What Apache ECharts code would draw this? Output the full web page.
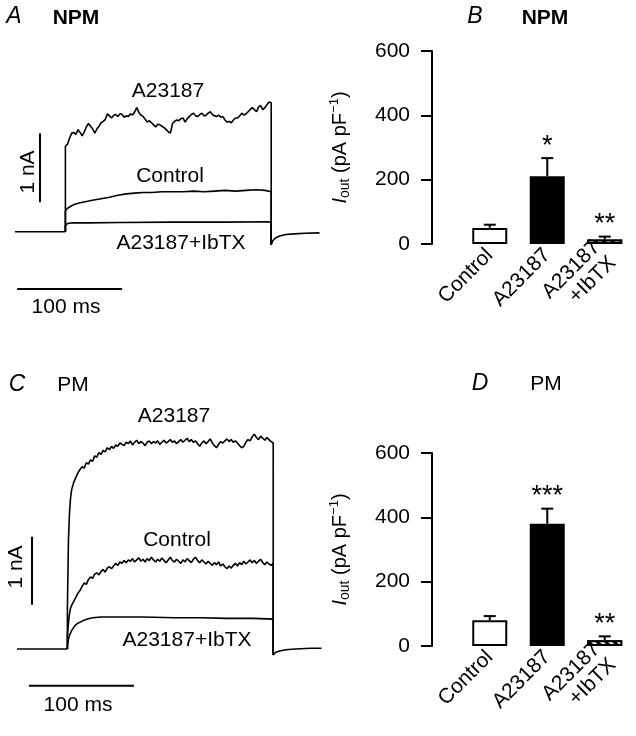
<!DOCTYPE html>
<html>
<head>
<meta charset="utf-8">
<script src="https://cdn.jsdelivr.net/npm/echarts@6/dist/echarts.min.js"></script>
<style>
  html, body { margin: 0; padding: 0; background: #fff; }
  #chart { width: 636px; height: 736px; }
</style>
</head>
<body>
<div id="chart"></div>
<script>
// ---- panel A (NPM) whole-cell traces: time in ms, current in nA ----
const stepOn = 48
const stepOff = 244
const preT = [0, 48]
const preI = [0, 0]

const tA = [48,50,52,54,56,58,60,62,64,66,68,70,72,74,76,78,80,82,84,86,88,90,92,94,96,98,100,102,104,106,108,110,112,114,116,118,120,122,124,126,128,130,132,134,136,138,140,142,144,146,148,150,152,154,156,158,160,162,164,166,168,170,172,174,176,178,180,182,184,186,188,190,192,194,196,198,200,202,204,206,208,210,212,214,216,218,220,222,224,226,228,230,232,234,236,238,240,242,244]
const npmA23187 = [
  1.24,1.27,1.36,1.43,1.44,1.41,1.48,1.44,1.39,1.45,
  1.52,1.57,1.53,1.49,1.43,1.49,1.53,1.58,1.60,1.63,
  1.71,1.68,1.65,1.69,1.70,1.67,1.71,1.70,1.66,1.68,
  1.67,1.71,1.69,1.74,1.80,1.73,1.69,1.67,1.63,1.59,
  1.61,1.58,1.55,1.52,1.56,1.55,1.53,1.51,1.48,1.45,
  1.43,1.57,1.60,1.62,1.61,1.64,1.65,1.59,1.64,1.67,
  1.70,1.72,1.68,1.67,1.70,1.72,1.68,1.69,1.72,1.74,
  1.70,1.68,1.67,1.69,1.66,1.67,1.62,1.59,1.60,1.58,
  1.62,1.65,1.65,1.68,1.72,1.69,1.71,1.74,1.77,1.80,
  1.77,1.74,1.81,1.83,1.77,1.80,1.84,1.88,1.87]
const npmControlT = [48,50,53,57,62,68,75,82,90,98,106,114,122,130,140,150,160,170,180,190,200,210,220,230,238,244]
const npmControl = [0.30,0.34,0.37,0.40,0.42,0.44,0.46,0.48,0.50,0.53,0.55,0.56,0.57,0.57,0.58,0.58,0.58,0.59,0.58,0.59,0.60,0.59,0.60,0.61,0.60,0.58]
const npmIbtxT = [48,50,55,70,100,150,200,244]
const npmIbtx = [0.09,0.12,0.13,0.13,0.135,0.14,0.14,0.145]
const npmTailT = [244,245.5,248,252,258,266,276,290]
const npmTail = [-0.19,-0.13,-0.09,-0.06,-0.04,-0.03,-0.02,-0.015]

// ---- panel C (PM) ----
const tC = [48,49,50,51,52,54,56,58,60,62,64,66,68,70,72,74,76,78,80,82,84,86,88,90,92,94,96,98,100,102,104,106,108,110,112,114,116,118,120,122,124,126,128,130,132,134,136,138,140,142,144,146,148,150,152,154,156,158,160,162,164,166,168,170,172,174,176,178,180,182,184,186,188,190,192,194,196,198,200,202,204,206,208,210,212,214,216,218,220,222,224,226,228,230,232,234,236,238,240,242,244]
const pmA23187 = [
  0.60,1.60,2.00,2.22,2.34,
  2.45,2.52,2.59,2.64,2.68,2.66,2.74,2.72,2.78,2.76,
  2.84,2.82,2.89,2.86,2.92,2.90,2.96,2.93,2.98,2.95,
  3.00,2.98,3.03,3.01,2.99,3.04,3.02,3.06,3.00,3.04,
  3.07,3.02,3.05,3.03,2.99,3.04,3.06,3.02,3.05,3.03,
  3.06,3.01,3.04,3.07,3.03,3.05,3.08,3.04,3.06,3.02,
  3.05,3.08,3.04,3.07,3.10,3.05,3.08,3.04,3.06,3.02,
  2.98,3.03,3.06,3.02,3.05,3.09,3.03,2.99,2.96,3.01,
  3.05,3.03,3.06,3.09,3.05,3.08,3.04,3.06,3.03,2.99,
  2.96,2.98,3.04,3.08,3.06,3.12,3.16,3.11,3.08,3.13,
  3.10,3.07,3.11,3.08,3.05,3.03]
const pmControl = [
  0.20,0.38,0.52,0.60,0.64,
  0.70,0.76,0.82,0.86,0.92,0.97,0.95,1.02,1.06,1.04,
  1.10,1.12,1.09,1.14,1.17,1.13,1.19,1.21,1.18,1.22,
  1.26,1.23,1.28,1.26,1.30,1.27,1.31,1.29,1.33,1.28,
  1.31,1.34,1.29,1.32,1.28,1.33,1.30,1.35,1.31,1.28,
  1.32,1.29,1.34,1.30,1.27,1.31,1.35,1.30,1.28,1.32,
  1.29,1.26,1.31,1.28,1.33,1.30,1.27,1.32,1.35,1.30,
  1.27,1.31,1.28,1.25,1.29,1.26,1.23,1.27,1.24,1.28,
  1.22,1.25,1.21,1.18,1.22,1.19,1.23,1.26,1.22,1.27,
  1.24,1.29,1.25,1.28,1.31,1.27,1.30,1.26,1.29,1.32,
  1.27,1.24,1.28,1.25,1.23,1.26]
const pmIbtxT = [48,49,50,52,55,58,62,67,72,80,95,120,150,175,200,225,244]
const pmIbtx = [0.05,0.14,0.20,0.27,0.34,0.38,0.41,0.44,0.46,0.47,0.47,0.47,0.46,0.46,0.45,0.45,0.44]
const pmTailT = [244,246,250,256,265,280,290]
const pmTail = [-0.09,-0.05,-0.03,-0.01,0,0.01,0.01]

// scale bars
const barNA = 1
const barMs = 100

// ---- panels B and D: mean +/- s.e.m., pA/pF ----
const barCats = ['Control', 'A23187', 'A23187\n+IbTX']
const npmMean = [50, 211, 14]
const npmSem = [10, 56, 9]
const npmStars = ['', '*', '**']
const pmMean = [80, 380, 18]
const pmSem = [13, 47, 12]
const pmStars = ['', '***', '**']

const FONT = 'Liberation Sans, Arial, Helvetica, sans-serif'

function pairs(t, v) {
  return t.map((x, i) => [x, v[i]])
}
function trace(t, v, tailStart) {
  return [[stepOn, 0]].concat(pairs(t, v), [[stepOff, tailStart]])
}
function lineSeries(grid, data, width) {
  return {
    type: 'line', xAxisIndex: grid, yAxisIndex: grid, data: data,
    symbol: 'none', silent: true, animation: false,
    lineStyle: { color: '#000', width: width || 1.6 }
  }
}

const barStyles = [
  { color: '#fff', borderColor: '#000', borderWidth: 2 },
  { color: '#000', borderColor: '#000', borderWidth: 2 },
  { color: '#fff', borderColor: '#000', borderWidth: 2,
    decal: { symbol: 'rect', symbolSize: 1, color: '#000', backgroundColor: '#fff',
             dashArrayX: [1, 0], dashArrayY: [3, 3], rotation: Math.PI / 4 } }
]

function barSeries(grid, mean) {
  return {
    type: 'bar', xAxisIndex: grid, yAxisIndex: grid, barWidth: 35,
    data: mean.map((m, i) => ({ value: m, itemStyle: barStyles[i] })),
    animation: false, silent: true
  }
}
function errSeries(grid, mean, sem, stars) {
  return {
    type: 'custom', xAxisIndex: grid, yAxisIndex: grid, animation: false, silent: true,
    data: mean.map((m, i) => [i, m, m + sem[i]]),
    renderItem: function (params, api) {
      const base = api.coord([api.value(0), api.value(1)])
      const top = api.coord([api.value(0), api.value(2)])
      return {
        type: 'group',
        children: [
          { type: 'line', shape: { x1: base[0], y1: base[1], x2: top[0], y2: top[1] },
            style: { stroke: '#000', lineWidth: 2 } },
          { type: 'line', shape: { x1: top[0] - 6, y1: top[1], x2: top[0] + 6, y2: top[1] },
            style: { stroke: '#000', lineWidth: 2 } },
          { type: 'text', x: top[0], y: top[1] - 12,
            style: { text: stars[params.dataIndex], fontSize: 27, fontFamily: FONT, fill: '#000',
                     align: 'center', verticalAlign: 'middle' } }
        ]
      }
    }
  }
}

function barYAxis(grid) {
  return {
    gridIndex: grid, type: 'value', min: 0, max: 600, interval: 200, offset: 29,
    axisLine: { show: true, lineStyle: { color: '#000', width: 2 } },
    axisTick: { show: true, length: 11, lineStyle: { color: '#000', width: 2 } },
    axisLabel: { color: '#000', fontSize: 21, margin: 22, fontFamily: FONT },
    splitLine: { show: false },
    name: '{i|I}{s|out} (pA pF{p|\u22121})',
    nameLocation: 'middle', nameRotate: 90, nameGap: 80,
    nameTextStyle: {
      color: '#000', fontSize: 20, fontFamily: FONT, lineHeight: 24,
      rich: {
        i: { fontStyle: 'italic', fontSize: 20, fontFamily: FONT, color: '#000', lineHeight: 24 },
        s: { fontSize: 14, fontFamily: FONT, color: '#000', lineHeight: 14, verticalAlign: 'bottom' },
        p: { fontSize: 13, fontFamily: FONT, color: '#000', lineHeight: 13, verticalAlign: 'top' }
      }
    }
  }
}
function barXAxis(grid) {
  return {
    gridIndex: grid, type: 'category', data: barCats,
    axisLine: { show: false }, axisTick: { show: false },
    axisLabel: { rotate: 45, interval: 0, fontSize: 21, color: '#000', margin: 8,
                 fontFamily: FONT, lineHeight: 22 }
  }
}
function traceXAxis(grid) {
  return { gridIndex: grid, type: 'value', min: 0, max: 290, show: false }
}

function txt(x, y, text, extra) {
  return {
    type: 'text', x: x, y: y,
    style: Object.assign({ text: text, fontSize: 21, fontFamily: FONT, fill: '#000',
                           align: 'center', verticalAlign: 'middle' }, extra || {})
  }
}

const myChart = echarts.init(document.getElementById('chart'), null, { renderer: 'canvas' })
myChart.setOption({
  animation: false,
  backgroundColor: '#fff',
  grid: [
    { left: 15, top: 80, width: 304.5, height: 241.5 },
    { left: 461, top: 51, width: 172.5, height: 193 },
    { left: 17, top: 417.8, width: 304.5, height: 292.4 },
    { left: 461, top: 453, width: 172.5, height: 193 }
  ],
  xAxis: [traceXAxis(0), barXAxis(1), traceXAxis(2), barXAxis(3)],
  yAxis: [
    { gridIndex: 0, type: 'value', min: -1.3, max: 2.2, show: false },
    barYAxis(1),
    { gridIndex: 2, type: 'value', min: -0.9, max: 3.4, show: false },
    barYAxis(3)
  ],
  series: [
    // A
    lineSeries(0, pairs(preT, preI)),
    lineSeries(0, trace(tA, npmA23187, npmTail[0])),
    lineSeries(0, trace(npmControlT, npmControl, npmTail[0])),
    lineSeries(0, trace(npmIbtxT, npmIbtx, npmTail[0])),
    lineSeries(0, pairs(npmTailT, npmTail)),
    lineSeries(0, [[23.8, 0.43], [23.8, 0.43 + barNA]], 2),
    lineSeries(0, [[2, -0.83], [2 + barMs, -0.83]], 2),
    // B
    barSeries(1, npmMean),
    errSeries(1, npmMean, npmSem, npmStars),
    // C
    lineSeries(2, pairs(preT, preI)),
    lineSeries(2, trace(tC, pmA23187, pmTail[0])),
    lineSeries(2, trace(tC, pmControl, pmTail[0])),
    lineSeries(2, trace(pmIbtxT, pmIbtx, pmTail[0])),
    lineSeries(2, pairs(pmTailT, pmTail)),
    lineSeries(2, [[14.3, 0.65], [14.3, 0.65 + barNA]], 2),
    lineSeries(2, [[11.4, -0.54], [11.4 + barMs, -0.54]], 2),
    // D
    barSeries(3, pmMean),
    errSeries(3, pmMean, pmSem, pmStars)
  ],
  graphic: {
    elements: [
      txt(14, 17, 'A', { fontStyle: 'italic', fontSize: 23 }),
      txt(76, 18, 'NPM', { fontWeight: 'bold', fontSize: 21 }),
      txt(475, 17, 'B', { fontStyle: 'italic', fontSize: 23 }),
      txt(545, 18, 'NPM', { fontWeight: 'bold', fontSize: 21 }),
      txt(17, 385, 'C', { fontStyle: 'italic', fontSize: 23 }),
      txt(73, 385, 'PM', { fontSize: 21 }),
      txt(480, 384, 'D', { fontStyle: 'italic', fontSize: 23 }),
      txt(546, 384, 'PM', { fontSize: 21 }),
      txt(168, 91, 'A23187'),
      txt(170, 176, 'Control'),
      txt(181, 243, 'A23187+IbTX'),
      txt(66, 307, '100 ms'),
      Object.assign(txt(28, 172, '1 nA'), { rotation: Math.PI / 2 }),
      txt(174, 416, 'A23187'),
      txt(177, 540, 'Control'),
      txt(187, 640, 'A23187+IbTX'),
      txt(78, 705, '100 ms'),
      Object.assign(txt(16, 567, '1 nA'), { rotation: Math.PI / 2 })
    ]
  }
})
</script>
</body>
</html>
